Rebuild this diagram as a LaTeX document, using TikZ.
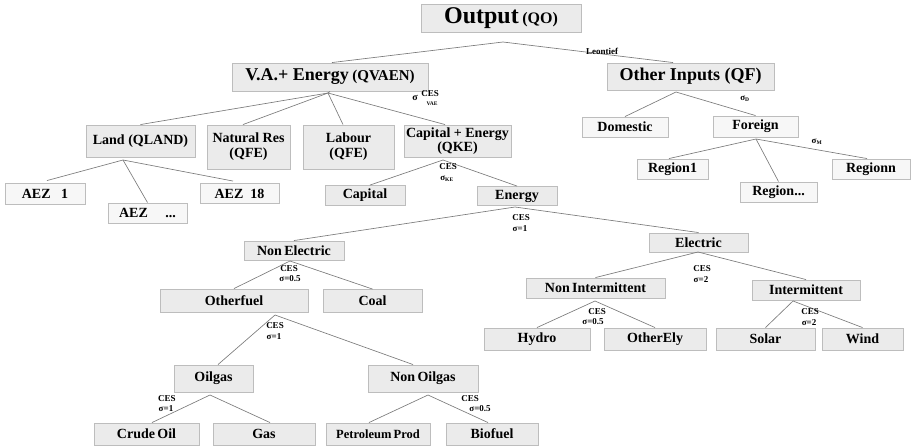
\documentclass[tikz,border=0pt]{standalone}
\usepackage{fontspec}
\setmainfont{Liberation Serif}
\definecolor{boxfill}{HTML}{EBEBEB}
\definecolor{boxfilllight}{HTML}{F7F7F7}
\definecolor{boxline}{HTML}{BDBDBD}
\definecolor{edgecol}{HTML}{7A7A7A}
\newcommand{\fs}[1]{\fontsize{#1}{#1}\selectfont}
\tikzset{
  gbox/.style={draw=boxline, line width=0.9pt, fill=boxfill, inner sep=0pt, align=center,
    font=\bfseries\fs{14}},
  wbox/.style={gbox, fill=boxfilllight},
  edge/.style={draw=edgecol, line width=0.65pt},
  lab/.style={inner sep=0pt, font=\bfseries\fs{9}},
}
\begin{document}
\begin{tikzpicture}[x=1pt,y=-1pt]
\useasboundingbox (0,0) rectangle (912,447);
% nodes
\node[gbox, minimum width=160, minimum height=28] (out) at (501,18) {{\fs{24}Output} {\fs{16}(QO)}};
\node[gbox, minimum width=196, minimum height=28] (vaen) at (330,77) {{\fs{18}V.A.+ Energy} {\fs{15}(QVAEN)}};
\node[gbox, minimum width=167, minimum height=27] (oth) at (690.5,76.5) {{\fs{18}Other Inputs (QF)}};
\node[gbox, minimum width=109, minimum height=32] (land) at (140.5,141) {Land (QLAND)};
\node[gbox, minimum width=83, minimum height=44] (nat) at (248.5,147) {Natural Res\\[1pt](QFE)};
\node[gbox, minimum width=91, minimum height=44] (lab) at (348.5,147) {Labour\\[1pt](QFE)};
\node[gbox, minimum width=107, minimum height=32] (qke) at (457.5,141) {Capital + Energy\\(QKE)};
\node[wbox, minimum width=80, minimum height=21] (aez1) at (45,193.5) {AEZ\ \ \ 1};
\node[wbox, minimum width=79, minimum height=20] (aezd) at (147.5,213) {AEZ\ \ \ \ \ ...};
\node[wbox, minimum width=79, minimum height=20] (aez18) at (239.5,193.5) {AEZ\ \ 18};
\node[gbox, minimum width=80, minimum height=20] (cap) at (365,195.5) {Capital};
\node[gbox, minimum width=80, minimum height=19] (ene) at (517,196) {Energy};
\node[wbox, minimum width=86, minimum height=20] (dom) at (625,127) {Domestic};
\node[wbox, minimum width=85, minimum height=21] (for) at (755.5,126.5) {Foreign};
\node[wbox, minimum width=71, minimum height=20] (reg1) at (672.5,169) {Region1};
\node[wbox, minimum width=77, minimum height=20] (regd) at (778.5,192) {Region...};
\node[wbox, minimum width=78, minimum height=20] (regn) at (871,169) {Regionn};
\node[gbox, minimum width=100, minimum height=19] (nonel) at (294,250.5) {Non\,Electric};
\node[gbox, minimum width=99, minimum height=19] (elec) at (698.5,242.5) {Electric};
\node[gbox, minimum width=148, minimum height=23] (othf) at (234,300.5) {Otherfuel};
\node[gbox, minimum width=99, minimum height=23] (coal) at (372.5,301) {Coal};
\node[gbox, minimum width=139, minimum height=20] (nonint) at (595.5,288) {Non\,Intermittent};
\node[gbox, minimum width=108, minimum height=20] (inter) at (806,290) {Intermittent};
\node[gbox, minimum width=106, minimum height=22] (hydro) at (537,339) {Hydro};
\node[gbox, minimum width=102, minimum height=22] (othely) at (655,339) {OtherEly};
\node[gbox, minimum width=99, minimum height=22] (solar) at (765.5,339) {Solar};
\node[gbox, minimum width=81, minimum height=22] (wind) at (862.5,339) {Wind};
\node[gbox, minimum width=79, minimum height=27] (oilg) at (213.5,378.5) {Oilgas};
\node[gbox, minimum width=110, minimum height=27] (nonoil) at (423,378.5) {Non\,Oilgas};
\node[gbox, minimum width=105, minimum height=22] (crude) at (146.5,434) {Crude\,Oil};
\node[gbox, minimum width=102, minimum height=22] (gas) at (264,434) {Gas};
\node[gbox, minimum width=104, minimum height=22, font=\bfseries\fs{12.5}] (petro) at (378,434) {Petroleum\,Prod};
\node[gbox, minimum width=92, minimum height=22] (bio) at (492,434) {Biofuel};
% branch points
\coordinate (bOut) at (503,42);
\coordinate (bVaen) at (328,93);
\coordinate (bLand) at (123,160);
\coordinate (bQke) at (443,160);
\coordinate (bEne) at (515,207);
\coordinate (bNonel) at (290,261);
\coordinate (bOthf) at (275,315);
\coordinate (bOilg) at (210,395);
\coordinate (bNonoil) at (428,395);
\coordinate (bElec) at (698,252);
\coordinate (bNonint) at (595,301);
\coordinate (bInter) at (793,301);
\coordinate (bOth) at (676,92);
\coordinate (bFor) at (756,139);
% edges
\draw[edge] (bOut) -- ([xshift=2pt]vaen.north);
\draw[edge] (bOut) -- ([xshift=-17.5pt]oth.north);
\draw[edge] (vaen.south) -- (bVaen);
\draw[edge] (bVaen) -- (land.north);
\draw[edge] (bVaen) -- ([xshift=-5.5pt]nat.north);
\draw[edge] (bVaen) -- ([xshift=-5.5pt]lab.north);
\draw[edge] (bVaen) -- ([xshift=-12.5pt]qke.north);
\draw[edge] (bLand) -- ([xshift=2pt,yshift=2pt]aez1.north);
\draw[edge] (bLand) -- (aezd.north);
\draw[edge] (bLand) -- ([xshift=-6.5pt,yshift=2pt]aez18.north);
\draw[edge] (bQke) -- ([xshift=5pt]cap.north);
\draw[edge] (bQke) -- (ene.north);
\draw[edge] (bEne) -- (nonel.north);
\draw[edge] (bEne) -- (elec.north);
\draw[edge] (bNonel) -- (othf.north);
\draw[edge] (bNonel) -- (coal.north);
\draw[edge] (bOthf) -- ([xshift=4.5pt]oilg.north);
\draw[edge] (bOthf) -- ([xshift=-10pt]nonoil.north);
\draw[edge] (bOilg) -- ([xshift=5.5pt]crude.north);
\draw[edge] (bOilg) -- ([xshift=6pt]gas.north);
\draw[edge] (bNonoil) -- ([xshift=-9pt]petro.north);
\draw[edge] (bNonoil) -- ([xshift=-4pt]bio.north);
\draw[edge] (bElec) -- (nonint.north);
\draw[edge] (bElec) -- (inter.north);
\draw[edge] (bNonint) -- (hydro.north);
\draw[edge] (bNonint) -- (othely.north);
\draw[edge] (bInter) -- (solar.north);
\draw[edge] (bInter) -- (wind.north);
\draw[edge] (bOth) -- (dom.north);
\draw[edge] (bOth) -- (for.north);
\draw[edge] (bFor) -- ([xshift=-3.5pt]reg1.north);
\draw[edge] (bFor) -- (regd.north);
\draw[edge] (bFor) -- ([xshift=-4pt]regn.north);
% labels
\node[lab] (lLeon) at (602,51) {Leontief};
\node[lab, font=\bfseries\fs{10}] (lVaeS) at (415,98) {σ};
\node[lab] (lVaeC) at (430,94) {CES};
\node[lab, font=\bfseries\fs{5.5}] (lVaeV) at (432,104) {VAE};
\node[lab] (lKeC) at (448,167) {CES};
\node[lab] (lKeS) at (447,179) {σ\textsubscript{\fs{5.5}KE}};
\node[lab] (lEneC) at (521,218) {CES};
\node[lab] (lEneS) at (520,229) {σ=1};
\node[lab] (lNelC) at (289,269) {CES};
\node[lab] (lNelS) at (290,279) {σ=0.5};
\node[lab] (lOthC) at (275,326) {CES};
\node[lab] (lOthS) at (274,337) {σ=1};
\node[lab] (lOilC) at (167,399) {CES};
\node[lab] (lOilS) at (166,409) {σ=1};
\node[lab] (lNoiC) at (470,399) {CES};
\node[lab] (lNoiS) at (480,409) {σ=0.5};
\node[lab] (lElcC) at (702,269) {CES};
\node[lab] (lElcS) at (701,280) {σ=2};
\node[lab] (lNinC) at (597,312) {CES};
\node[lab] (lNinS) at (593,322) {σ=0.5};
\node[lab] (lIntC) at (810,312) {CES};
\node[lab] (lIntS) at (809,323) {σ=2};
\node[lab] (lD) at (745,99) {σ\textsubscript{\fs{5.5}D}};
\node[lab] (lM) at (817,142) {σ\textsubscript{\fs{5.5}M}};
\end{tikzpicture}
\end{document}
